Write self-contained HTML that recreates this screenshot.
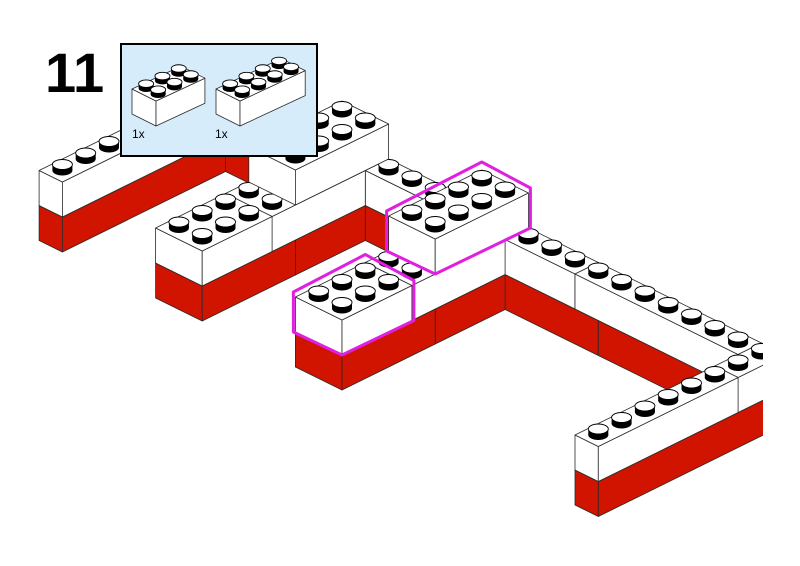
<!DOCTYPE html>
<html><head><meta charset="utf-8"><style>
html,body{margin:0;padding:0;background:#fff;width:800px;height:566px;overflow:hidden}
svg{display:block}
</style></head><body>
<svg id="s" width="800" height="566" viewBox="0 0 800 566" xmlns="http://www.w3.org/2000/svg">
<rect width="800" height="566" fill="#fff"/>
<g id="main"></g>
<rect x="763" y="0" width="37" height="566" fill="#fff"/>
<g id="hl"></g>
<rect x="121" y="44" width="196" height="112" fill="#d6ecfb" stroke="#000" stroke-width="2"/>
<g id="inset"></g>
<text x="45" y="92" font-family="Liberation Sans, sans-serif" font-weight="bold" font-size="56" fill="#000">11</text>
<text x="132" y="138" font-family="Liberation Sans, sans-serif" font-size="12" fill="#000">1x</text>
<text x="215" y="138" font-family="Liberation Sans, sans-serif" font-size="12" fill="#000">1x</text>
</svg>
<script>
(function(){
var NS="http://www.w3.org/2000/svg";
var RED="#d01400", WHITE="#ffffff", LINE="#2a2a2a";
function mk(par,tag,attrs){var e=document.createElementNS(NS,tag);for(var k in attrs)e.setAttribute(k,attrs[k]);par.appendChild(e);return e;}
function makeProj(o){return function(x,y,z){return [o.ox+x*o.bx+y*o.ax, o.oy+x*o.by+y*o.ay-z*o.h];};}
function poly(par,pts,fill,sw){mk(par,"polygon",{points:pts.map(function(p){return p[0].toFixed(1)+","+p[1].toFixed(1)}).join(" "),fill:fill,stroke:LINE,"stroke-width":sw||0.8,"stroke-linejoin":"round"});}
function stud(par,c,sc){
  var rx=10*sc, ry=5*sc, hh=6*sc;
  mk(par,"ellipse",{cx:c[0],cy:c[1],rx:rx,ry:ry,fill:"#000"});
  mk(par,"rect",{x:c[0]-rx,y:c[1]-hh,width:2*rx,height:hh,fill:"#000"});
  mk(par,"ellipse",{cx:c[0],cy:c[1]-hh,rx:rx,ry:ry,fill:"#fff",stroke:"#000","stroke-width":0.9});
}
function render(par,boxes,P,sc){
  function before(A,B){return A.x1<=B.x0||A.y0>=B.y1||A.z1<=B.z0;}
  var rem=boxes.slice(), order=[];
  while(rem.length){
    var pick=-1;
    for(var i=0;i<rem.length&&pick<0;i++){
      var ok=true;
      for(var j=0;j<rem.length;j++){ if(i==j)continue;
        if(before(rem[j],rem[i])&&!before(rem[i],rem[j])){ok=false;break;}
      }
      if(ok)pick=i;
    }
    if(pick<0)pick=0;
    order.push(rem[pick]);rem.splice(pick,1);
  }
  order.forEach(function(b){
    var g=mk(par,"g",{});
    var x0=b.x0,x1=b.x1,y0=b.y0,y1=b.y1,z0=b.z0,z1=b.z1;
    poly(g,[P(x0,y0,z0),P(x1,y0,z0),P(x1,y0,z1),P(x0,y0,z1)],b.c);
    poly(g,[P(x1,y0,z0),P(x1,y1,z0),P(x1,y1,z1),P(x1,y0,z1)],b.c);
    poly(g,[P(x0,y0,z1),P(x0,y1,z1),P(x1,y1,z1),P(x1,y0,z1)],b.c);
    for(var i=x0;i<x1;i++){
      for(var j=y1-1;j>=y0;j--){
        var cov=boxes.some(function(o){return o!==b&&o.z0==z1&&o.x0<=i&&o.x1>=i+1&&o.y0<=j&&o.y1>=j+1;});
        if(!cov)stud(g,P(i+0.5,j+0.5,z1),sc);
      }
    }
  });
}
function B(x0,x1,y0,y1,z0,z1,c){return {x0:x0,x1:x1,y0:y0,y1:y1,z0:z0,z1:z1,c:c};}
var P=makeProj({ox:342,oy:390,bx:23.3,by:11.5,ax:23.3,ay:-11.5,h:35});
var boxes=[
 B(-13,-6,7,8,0,1,RED),B(-6,4,7,8,0,1,RED),B(4,10,7,8,0,1,RED),
 B(-13,-6,7,8,1,2,WHITE),B(-6,3,7,8,1,2,WHITE),B(3,10,7,8,1,2,WHITE),
 B(10,11,0,8,0,1,RED),B(10,11,0,6,1,2,WHITE),B(10,11,6,8,1,2,WHITE),
 B(-2,0,0,4,0,1,RED),B(-2,0,4,7,0,1,RED),
 B(-2,0,0,3,1,2,WHITE),B(-2,0,3,7,1,2,WHITE),
 B(-2,0,4,8,2,3,WHITE),
 B(-8,-6,0,4,0,1,RED),B(-8,-6,4,7,0,1,RED),
 B(-8,-6,0,3,1,2,WHITE),B(-8,-6,3,7,1,2,WHITE),
 B(-8,-6,4,8,2,3,WHITE),
 B(-13,-12,0,7,0,1,RED),B(-13,-12,0,7,1,2,WHITE)
];
render(document.getElementById("main"),boxes,P,1);
var hl=document.getElementById("hl");
function hex(b){
  var pts=[P(b.x0,b.y0,b.z1),P(b.x0,b.y1,b.z1),P(b.x1,b.y1,b.z1),P(b.x1,b.y1,b.z0),P(b.x1,b.y0,b.z0),P(b.x0,b.y0,b.z0)];
  pts[0][1]-=5;pts[1][1]-=8;pts[2][1]-=5;
  pts[0][0]-=2;pts[5][0]-=2;pts[2][0]+=2;pts[3][0]+=2;
  mk(hl,"polygon",{points:pts.map(function(p){return p[0].toFixed(1)+","+p[1].toFixed(1)}).join(" "),fill:"none",stroke:"#e020e0","stroke-width":3,"stroke-linejoin":"round"});
}
hex(B(-2,0,0,3,1,2));hex(B(-2,0,4,8,2,3));
var ins=document.getElementById("inset");
var P1=makeProj({ox:132,oy:114,bx:12,by:6,ax:16.3,ay:-7.6,h:25});
render(ins,[B(0,2,0,3,0,1,WHITE)],P1,0.75);
var P2=makeProj({ox:216,oy:114,bx:12,by:6,ax:16.3,ay:-7.6,h:25});
render(ins,[B(0,2,0,4,0,1,WHITE)],P2,0.75);
})();
</script>
</body></html>
